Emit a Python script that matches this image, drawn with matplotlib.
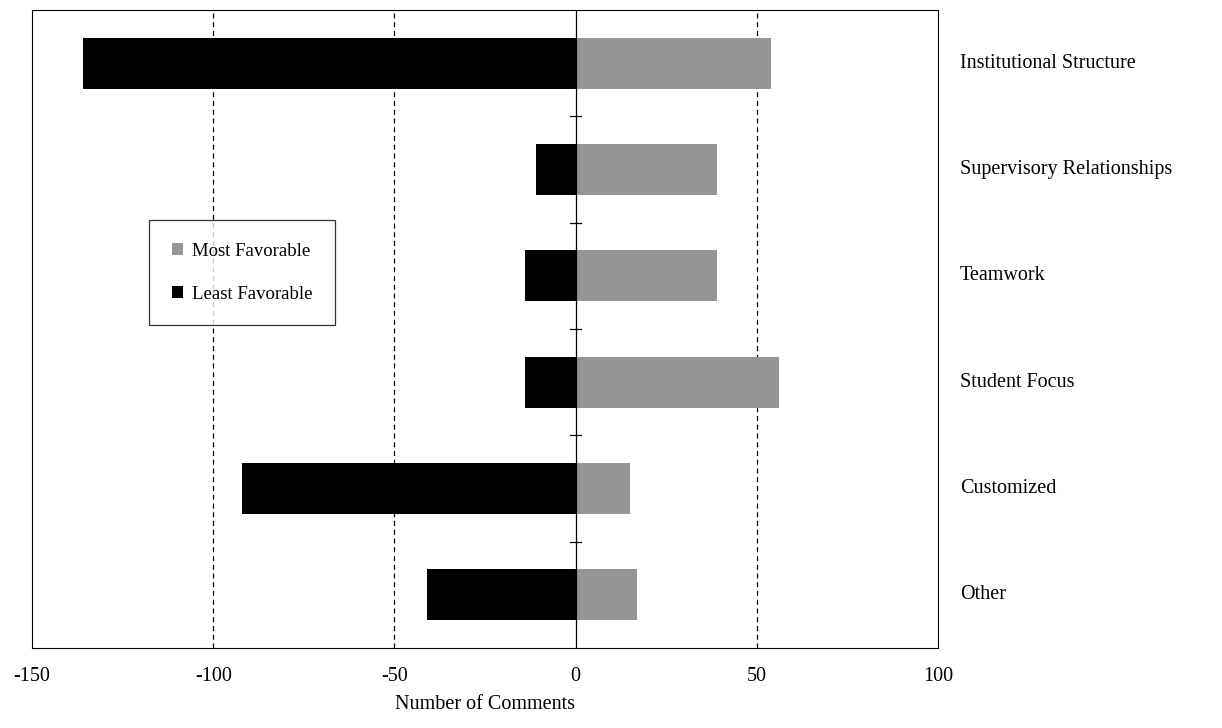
import matplotlib
matplotlib.use("Agg")
import matplotlib.pyplot as plt

categories = ["Institutional Structure", "Supervisory Relationships", "Teamwork",
              "Student Focus", "Customized", "Other"]
most_fav = [54, 39, 39, 56, 15, 17]
least_fav = [-136, -11, -14, -14, -92, -41]
xticks = [-150, -100, -50, 0, 50, 100]

plt.rcParams['font.family'] = ['Liberation Serif', 'DejaVu Serif']
fig = plt.figure(figsize=(12.22, 7.28), dpi=100)
ax = fig.add_axes([32/1222, 1-648/728, 906/1222, 638/728])

n = len(categories)
ys = list(range(n))[::-1]
ax.barh(ys, most_fav, height=0.48, color='#969696', label='Most Favorable', zorder=3)
ax.barh(ys, least_fav, height=0.48, color='black', label='Least Favorable', zorder=3)

ax.set_xlim(-150, 100)
ax.set_ylim(-0.5, n-0.5)
for x in [-100, -50, 50]:
    ax.axvline(x, color='black', ls=(0, (4, 3)), lw=0.9, zorder=1)
ax.axvline(0, color='black', lw=0.9, zorder=4)
for b in range(1, n):
    yb = b - 0.5
    ax.plot([-1.5, 1.5], [yb, yb], color='black', lw=0.9, zorder=4)

ax.set_xticks(xticks)
ax.set_xticklabels([str(v) for v in xticks], fontsize=14.5)
ax.tick_params(axis='x', length=0, pad=14)
ax.set_yticks([])
ax.set_xlabel("Number of Comments", fontsize=14.5, labelpad=6)
for y, c in zip(ys, categories):
    ax.text(1.024, (y+0.5)/n, c, transform=ax.transAxes, va='center', ha='left', fontsize=14.5)

leg = ax.legend(loc='upper left', bbox_to_anchor=((149-32)/906, (648-220)/638),
                frameon=True, fancybox=False, edgecolor='black', fontsize=13.5,
                handlelength=0.6, handleheight=0.6, labelspacing=1.4,
                borderpad=1.2, handletextpad=0.5, borderaxespad=0)
leg.get_frame().set_linewidth(0.9)
fig.savefig("out.png", dpi=100)
